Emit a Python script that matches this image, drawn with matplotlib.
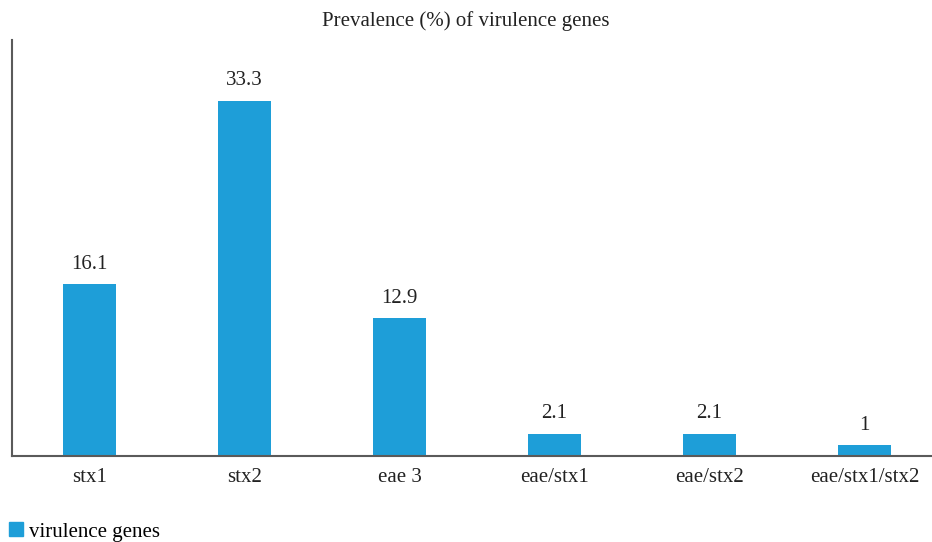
import matplotlib.pyplot as plt
from matplotlib.patches import Patch

genes = ["stx1", "stx2", "eae 3", "eae/stx1", "eae/stx2", "eae/stx1/stx2"]
prevalence = [16.1, 33.3, 12.9, 2.1, 2.1, 1]
labels = ["16.1", "33.3", "12.9", "2.1", "2.1", "1"]

BLUE = "#1e9ed8"
FS = 15
plt.rcParams['font.family'] = ['Liberation Serif', 'DejaVu Serif']

fig = plt.figure(figsize=(9.32, 5.42), dpi=100)
ax = fig.add_axes([0.0129, 0.1587, 0.998, 0.7675])

x = list(range(len(genes)))
bars = ax.bar(x, prevalence, width=0.34, color=BLUE)
for b, t in zip(bars, labels):
    ax.text(b.get_x() + b.get_width() / 2, b.get_height() + 1.0, t,
            ha='center', va='bottom', fontsize=FS, color='#222222')

ax.set_xlim(-0.5, len(genes) - 0.5)
ax.set_ylim(0, 39)
ax.set_xticks(x)
ax.set_xticklabels(genes, fontsize=FS, color='#222222')
ax.tick_params(axis='x', length=0, pad=9)
ax.set_yticks([])
for s in ['top', 'right']:
    ax.spines[s].set_visible(False)
for s in ['left', 'bottom']:
    ax.spines[s].set_color('#5a5a5a')
    ax.spines[s].set_linewidth(1.5)

fig.text(0.5, 0.962, "Prevalence (%) of virulence genes", ha='center', va='center',
         fontsize=FS, color='#222222')

fig.legend(handles=[Patch(color=BLUE, label="virulence genes")], loc='lower left',
           bbox_to_anchor=(-0.006, -0.026), frameon=False, fontsize=FS,
           handlelength=0.65, handleheight=0.65, handletextpad=0.3, borderaxespad=0.3)

plt.savefig("out.png", dpi=100)
plt.close()
